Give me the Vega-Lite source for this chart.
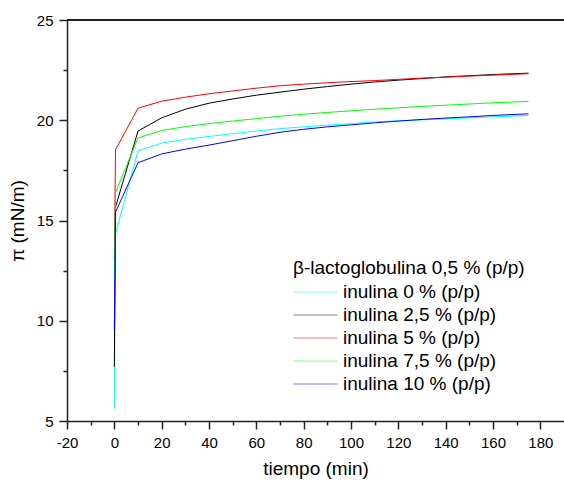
{
  "$schema": "https://vega.github.io/schema/vega-lite/v6.json",
  "width": 497,
  "height": 401,
  "autosize": {"type": "none"},
  "padding": {"left": 67, "top": 20, "right": 0, "bottom": 61},
  "background": "white",
  "config": {
    "view": {"stroke": null},
    "font": "Liberation Sans",
    "axis": {"labelFont": "Liberation Sans", "titleFont": "Liberation Sans", "labelColor": "black", "titleColor": "black", "titleFontWeight": "normal", "domainColor": "#222", "tickColor": "#222", "domainWidth": 1.5, "tickWidth": 1.5, "grid": false},
    "legend": {"labelFont": "Liberation Sans", "titleFont": "Liberation Sans"}
  },
  "data": {"values": [
    {"t": 0, "pi": 5.63, "s": "inulina 0 % (p/p)"},
    {"t": 0.5, "pi": 14.34, "s": "inulina 0 % (p/p)"},
    {"t": 10, "pi": 18.47, "s": "inulina 0 % (p/p)"},
    {"t": 20, "pi": 18.86, "s": "inulina 0 % (p/p)"},
    {"t": 30, "pi": 19.05, "s": "inulina 0 % (p/p)"},
    {"t": 40, "pi": 19.19, "s": "inulina 0 % (p/p)"},
    {"t": 50, "pi": 19.33, "s": "inulina 0 % (p/p)"},
    {"t": 60, "pi": 19.46, "s": "inulina 0 % (p/p)"},
    {"t": 70, "pi": 19.58, "s": "inulina 0 % (p/p)"},
    {"t": 80, "pi": 19.67, "s": "inulina 0 % (p/p)"},
    {"t": 90, "pi": 19.75, "s": "inulina 0 % (p/p)"},
    {"t": 100, "pi": 19.83, "s": "inulina 0 % (p/p)"},
    {"t": 110, "pi": 19.92, "s": "inulina 0 % (p/p)"},
    {"t": 120, "pi": 19.97, "s": "inulina 0 % (p/p)"},
    {"t": 130, "pi": 20.02, "s": "inulina 0 % (p/p)"},
    {"t": 140, "pi": 20.07, "s": "inulina 0 % (p/p)"},
    {"t": 150, "pi": 20.12, "s": "inulina 0 % (p/p)"},
    {"t": 160, "pi": 20.17, "s": "inulina 0 % (p/p)"},
    {"t": 175, "pi": 20.24, "s": "inulina 0 % (p/p)"},
    {"t": 0, "pi": 7.7, "s": "inulina 2,5 % (p/p)"},
    {"t": 0.5, "pi": 15.67, "s": "inulina 2,5 % (p/p)"},
    {"t": 10, "pi": 19.46, "s": "inulina 2,5 % (p/p)"},
    {"t": 20, "pi": 20.12, "s": "inulina 2,5 % (p/p)"},
    {"t": 30, "pi": 20.55, "s": "inulina 2,5 % (p/p)"},
    {"t": 40, "pi": 20.85, "s": "inulina 2,5 % (p/p)"},
    {"t": 50, "pi": 21.06, "s": "inulina 2,5 % (p/p)"},
    {"t": 60, "pi": 21.25, "s": "inulina 2,5 % (p/p)"},
    {"t": 70, "pi": 21.4, "s": "inulina 2,5 % (p/p)"},
    {"t": 80, "pi": 21.55, "s": "inulina 2,5 % (p/p)"},
    {"t": 90, "pi": 21.68, "s": "inulina 2,5 % (p/p)"},
    {"t": 100, "pi": 21.8, "s": "inulina 2,5 % (p/p)"},
    {"t": 110, "pi": 21.91, "s": "inulina 2,5 % (p/p)"},
    {"t": 120, "pi": 22.0, "s": "inulina 2,5 % (p/p)"},
    {"t": 130, "pi": 22.08, "s": "inulina 2,5 % (p/p)"},
    {"t": 140, "pi": 22.16, "s": "inulina 2,5 % (p/p)"},
    {"t": 150, "pi": 22.22, "s": "inulina 2,5 % (p/p)"},
    {"t": 160, "pi": 22.28, "s": "inulina 2,5 % (p/p)"},
    {"t": 175, "pi": 22.35, "s": "inulina 2,5 % (p/p)"},
    {"t": 0, "pi": 13.0, "s": "inulina 5 % (p/p)"},
    {"t": 0.5, "pi": 18.53, "s": "inulina 5 % (p/p)"},
    {"t": 10, "pi": 20.6, "s": "inulina 5 % (p/p)"},
    {"t": 20, "pi": 20.95, "s": "inulina 5 % (p/p)"},
    {"t": 30, "pi": 21.15, "s": "inulina 5 % (p/p)"},
    {"t": 40, "pi": 21.32, "s": "inulina 5 % (p/p)"},
    {"t": 50, "pi": 21.46, "s": "inulina 5 % (p/p)"},
    {"t": 60, "pi": 21.6, "s": "inulina 5 % (p/p)"},
    {"t": 70, "pi": 21.72, "s": "inulina 5 % (p/p)"},
    {"t": 80, "pi": 21.8, "s": "inulina 5 % (p/p)"},
    {"t": 90, "pi": 21.87, "s": "inulina 5 % (p/p)"},
    {"t": 100, "pi": 21.93, "s": "inulina 5 % (p/p)"},
    {"t": 110, "pi": 21.98, "s": "inulina 5 % (p/p)"},
    {"t": 120, "pi": 22.04, "s": "inulina 5 % (p/p)"},
    {"t": 130, "pi": 22.1, "s": "inulina 5 % (p/p)"},
    {"t": 140, "pi": 22.15, "s": "inulina 5 % (p/p)"},
    {"t": 150, "pi": 22.2, "s": "inulina 5 % (p/p)"},
    {"t": 160, "pi": 22.25, "s": "inulina 5 % (p/p)"},
    {"t": 175, "pi": 22.32, "s": "inulina 5 % (p/p)"},
    {"t": 0, "pi": 12.0, "s": "inulina 7,5 % (p/p)"},
    {"t": 0.5, "pi": 16.4, "s": "inulina 7,5 % (p/p)"},
    {"t": 10, "pi": 19.12, "s": "inulina 7,5 % (p/p)"},
    {"t": 20, "pi": 19.49, "s": "inulina 7,5 % (p/p)"},
    {"t": 30, "pi": 19.68, "s": "inulina 7,5 % (p/p)"},
    {"t": 40, "pi": 19.83, "s": "inulina 7,5 % (p/p)"},
    {"t": 50, "pi": 19.96, "s": "inulina 7,5 % (p/p)"},
    {"t": 60, "pi": 20.08, "s": "inulina 7,5 % (p/p)"},
    {"t": 70, "pi": 20.2, "s": "inulina 7,5 % (p/p)"},
    {"t": 80, "pi": 20.3, "s": "inulina 7,5 % (p/p)"},
    {"t": 90, "pi": 20.39, "s": "inulina 7,5 % (p/p)"},
    {"t": 100, "pi": 20.47, "s": "inulina 7,5 % (p/p)"},
    {"t": 110, "pi": 20.55, "s": "inulina 7,5 % (p/p)"},
    {"t": 120, "pi": 20.62, "s": "inulina 7,5 % (p/p)"},
    {"t": 130, "pi": 20.69, "s": "inulina 7,5 % (p/p)"},
    {"t": 140, "pi": 20.75, "s": "inulina 7,5 % (p/p)"},
    {"t": 150, "pi": 20.81, "s": "inulina 7,5 % (p/p)"},
    {"t": 160, "pi": 20.87, "s": "inulina 7,5 % (p/p)"},
    {"t": 175, "pi": 20.94, "s": "inulina 7,5 % (p/p)"},
    {"t": 0, "pi": 9.52, "s": "inulina 10 % (p/p)"},
    {"t": 0.5, "pi": 15.42, "s": "inulina 10 % (p/p)"},
    {"t": 10, "pi": 17.88, "s": "inulina 10 % (p/p)"},
    {"t": 20, "pi": 18.32, "s": "inulina 10 % (p/p)"},
    {"t": 30, "pi": 18.56, "s": "inulina 10 % (p/p)"},
    {"t": 40, "pi": 18.76, "s": "inulina 10 % (p/p)"},
    {"t": 50, "pi": 18.98, "s": "inulina 10 % (p/p)"},
    {"t": 60, "pi": 19.2, "s": "inulina 10 % (p/p)"},
    {"t": 70, "pi": 19.4, "s": "inulina 10 % (p/p)"},
    {"t": 80, "pi": 19.55, "s": "inulina 10 % (p/p)"},
    {"t": 90, "pi": 19.67, "s": "inulina 10 % (p/p)"},
    {"t": 100, "pi": 19.77, "s": "inulina 10 % (p/p)"},
    {"t": 110, "pi": 19.87, "s": "inulina 10 % (p/p)"},
    {"t": 120, "pi": 19.96, "s": "inulina 10 % (p/p)"},
    {"t": 130, "pi": 20.04, "s": "inulina 10 % (p/p)"},
    {"t": 140, "pi": 20.11, "s": "inulina 10 % (p/p)"},
    {"t": 150, "pi": 20.17, "s": "inulina 10 % (p/p)"},
    {"t": 160, "pi": 20.24, "s": "inulina 10 % (p/p)"},
    {"t": 175, "pi": 20.32, "s": "inulina 10 % (p/p)"}
  ]},
  "layer": [
    {
      "mark": {"type": "line", "strokeWidth": 1, "clip": true},
      "encoding": {
        "x": {"field": "t", "type": "quantitative", "scale": {"domain": [-20, 190], "nice": false, "zero": false},
          "axis": {"values": [-20,-10,0,10,20,30,40,50,60,70,80,90,100,110,120,130,140,150,160,170,180],
            "labelExpr": "datum.value % 20 === 0 ? '' + datum.value : ''",
            "tickSize": {"condition": {"test": "datum.value % 20 === 0", "value": 8}, "value": 4},
            "labelFontSize": 15, "labelPadding": 6, "labelFlush": false, "labelOverlap": false,
            "title": "tiempo (min)", "titleFontSize": 19, "titlePadding": 9}},
        "y": {"field": "pi", "type": "quantitative", "scale": {"domain": [5, 25], "nice": false, "zero": false},
          "axis": {"values": [5,7.5,10,12.5,15,17.5,20,22.5,25],
            "labelExpr": "datum.value % 5 === 0 ? '' + datum.value : ''",
            "tickSize": {"condition": {"test": "datum.value % 5 === 0", "value": 8}, "value": 4},
            "labelFontSize": 15, "labelPadding": 6, "labelFlush": false, "labelOverlap": false,
            "title": "π (mN/m)", "titleFontSize": 19, "titlePadding": 9}},
        "color": {"field": "s", "type": "nominal",
          "scale": {"domain": ["inulina 0 % (p/p)", "inulina 2,5 % (p/p)", "inulina 5 % (p/p)", "inulina 7,5 % (p/p)", "inulina 10 % (p/p)"],
            "range": ["#00FFFF", "#000000", "#FF0000", "#00FF00", "#0000FF"]},
          "legend": {"title": "β-lactoglobulina 0,5 % (p/p)", "orient": "none", "legendX": 226, "legendY": 238.5,
            "padding": 0, "titleFontSize": 19, "titleFontWeight": "normal", "titleColor": "black", "titlePadding": 4, "titleLimit": 400,
            "labelFontSize": 19, "labelColor": "black", "labelOffset": 29, "labelLimit": 400, "rowPadding": 2,
            "symbolType": "M-1,0H3.4", "symbolSize": 400, "symbolStrokeWidth": 1, "symbolOpacity": 0.5}},
        "order": {"field": "t", "type": "quantitative"}
      }
    },
    {
      "mark": {"type": "rule", "color": "#222", "strokeWidth": 1.5},
      "encoding": {"y": {"datum": 25}}
    }
  ]
}
